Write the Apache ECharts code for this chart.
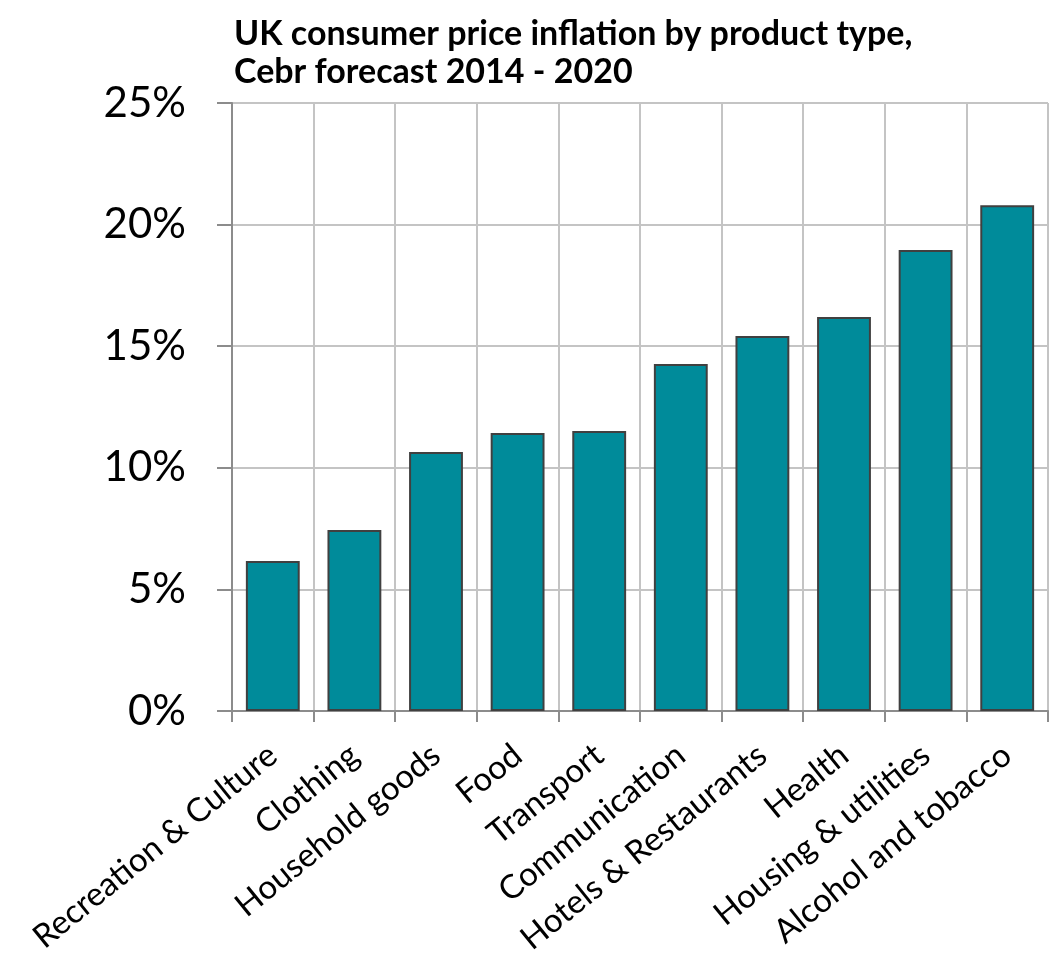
<!DOCTYPE html>
<html>
<head>
<meta charset="utf-8">
<script src="https://cdn.jsdelivr.net/npm/echarts@6/dist/echarts.min.js"></script>
<style>
  html, body { margin: 0; padding: 0; background: #fff; }
  #chart { width: 1052px; height: 958px; }
</style>
</head>
<body>
<div id="chart"></div>
<script>
// Product categories, sorted by forecast inflation
const categories = [
  'Recreation & Culture', 'Clothing', 'Household goods', 'Food', 'Transport',
  'Communication', 'Hotels & Restaurants', 'Health', 'Housing & utilities',
  'Alcohol and tobacco'
];
// Cumulative CPI inflation 2014-2020, percent
const inflation = [6.17, 7.44, 10.65, 11.43, 11.51, 14.27, 15.42, 16.2, 18.96, 20.8];
// Value axis range and step, percent
const yMin = 0, yMax = 25, yStep = 5;

const font = 'Lato, "Open Sans", "Noto Sans", sans-serif';
const chart = echarts.init(document.getElementById('chart'));
chart.setOption({
  animation: false,
  title: {
    text: 'UK consumer price inflation by product type,\nCebr forecast 2014 - 2020',
    left: 229,
    top: 10,
    textStyle: {
      fontFamily: font, fontSize: 34, fontWeight: 'bold', color: '#000', lineHeight: 38
    }
  },
  grid: { left: 232, right: 4, top: 103, bottom: 247, containLabel: false },
  xAxis: {
    type: 'category',
    data: categories,
    axisLine: { show: true, lineStyle: { color: '#8c8c8c', width: 2 } },
    axisTick: { show: true, length: 11, interval: 0, lineStyle: { color: '#8c8c8c', width: 2 } },
    splitLine: { show: true, interval: 0, lineStyle: { color: '#c4c4c4', width: 2 } },
    axisLabel: {
      interval: 0, rotate: 39, margin: 40,
      fontFamily: font, fontSize: 33, color: '#000'
    }
  },
  yAxis: {
    type: 'value',
    min: yMin, max: yMax, interval: yStep,
    axisLine: { show: true, lineStyle: { color: '#8c8c8c', width: 2 } },
    axisTick: { show: true, length: 15, lineStyle: { color: '#8c8c8c', width: 2 } },
    splitLine: { show: true, lineStyle: { color: '#c4c4c4', width: 2 } },
    axisLabel: {
      margin: 46, formatter: v => v + '%',
      fontFamily: font, fontSize: 42, color: '#000'
    }
  },
  series: [{
    type: 'bar',
    data: inflation,
    barCategoryGap: '34%',
    itemStyle: { color: '#008b9a', borderColor: '#404040', borderWidth: 2 }
  }]
});
</script>
</body>
</html>
